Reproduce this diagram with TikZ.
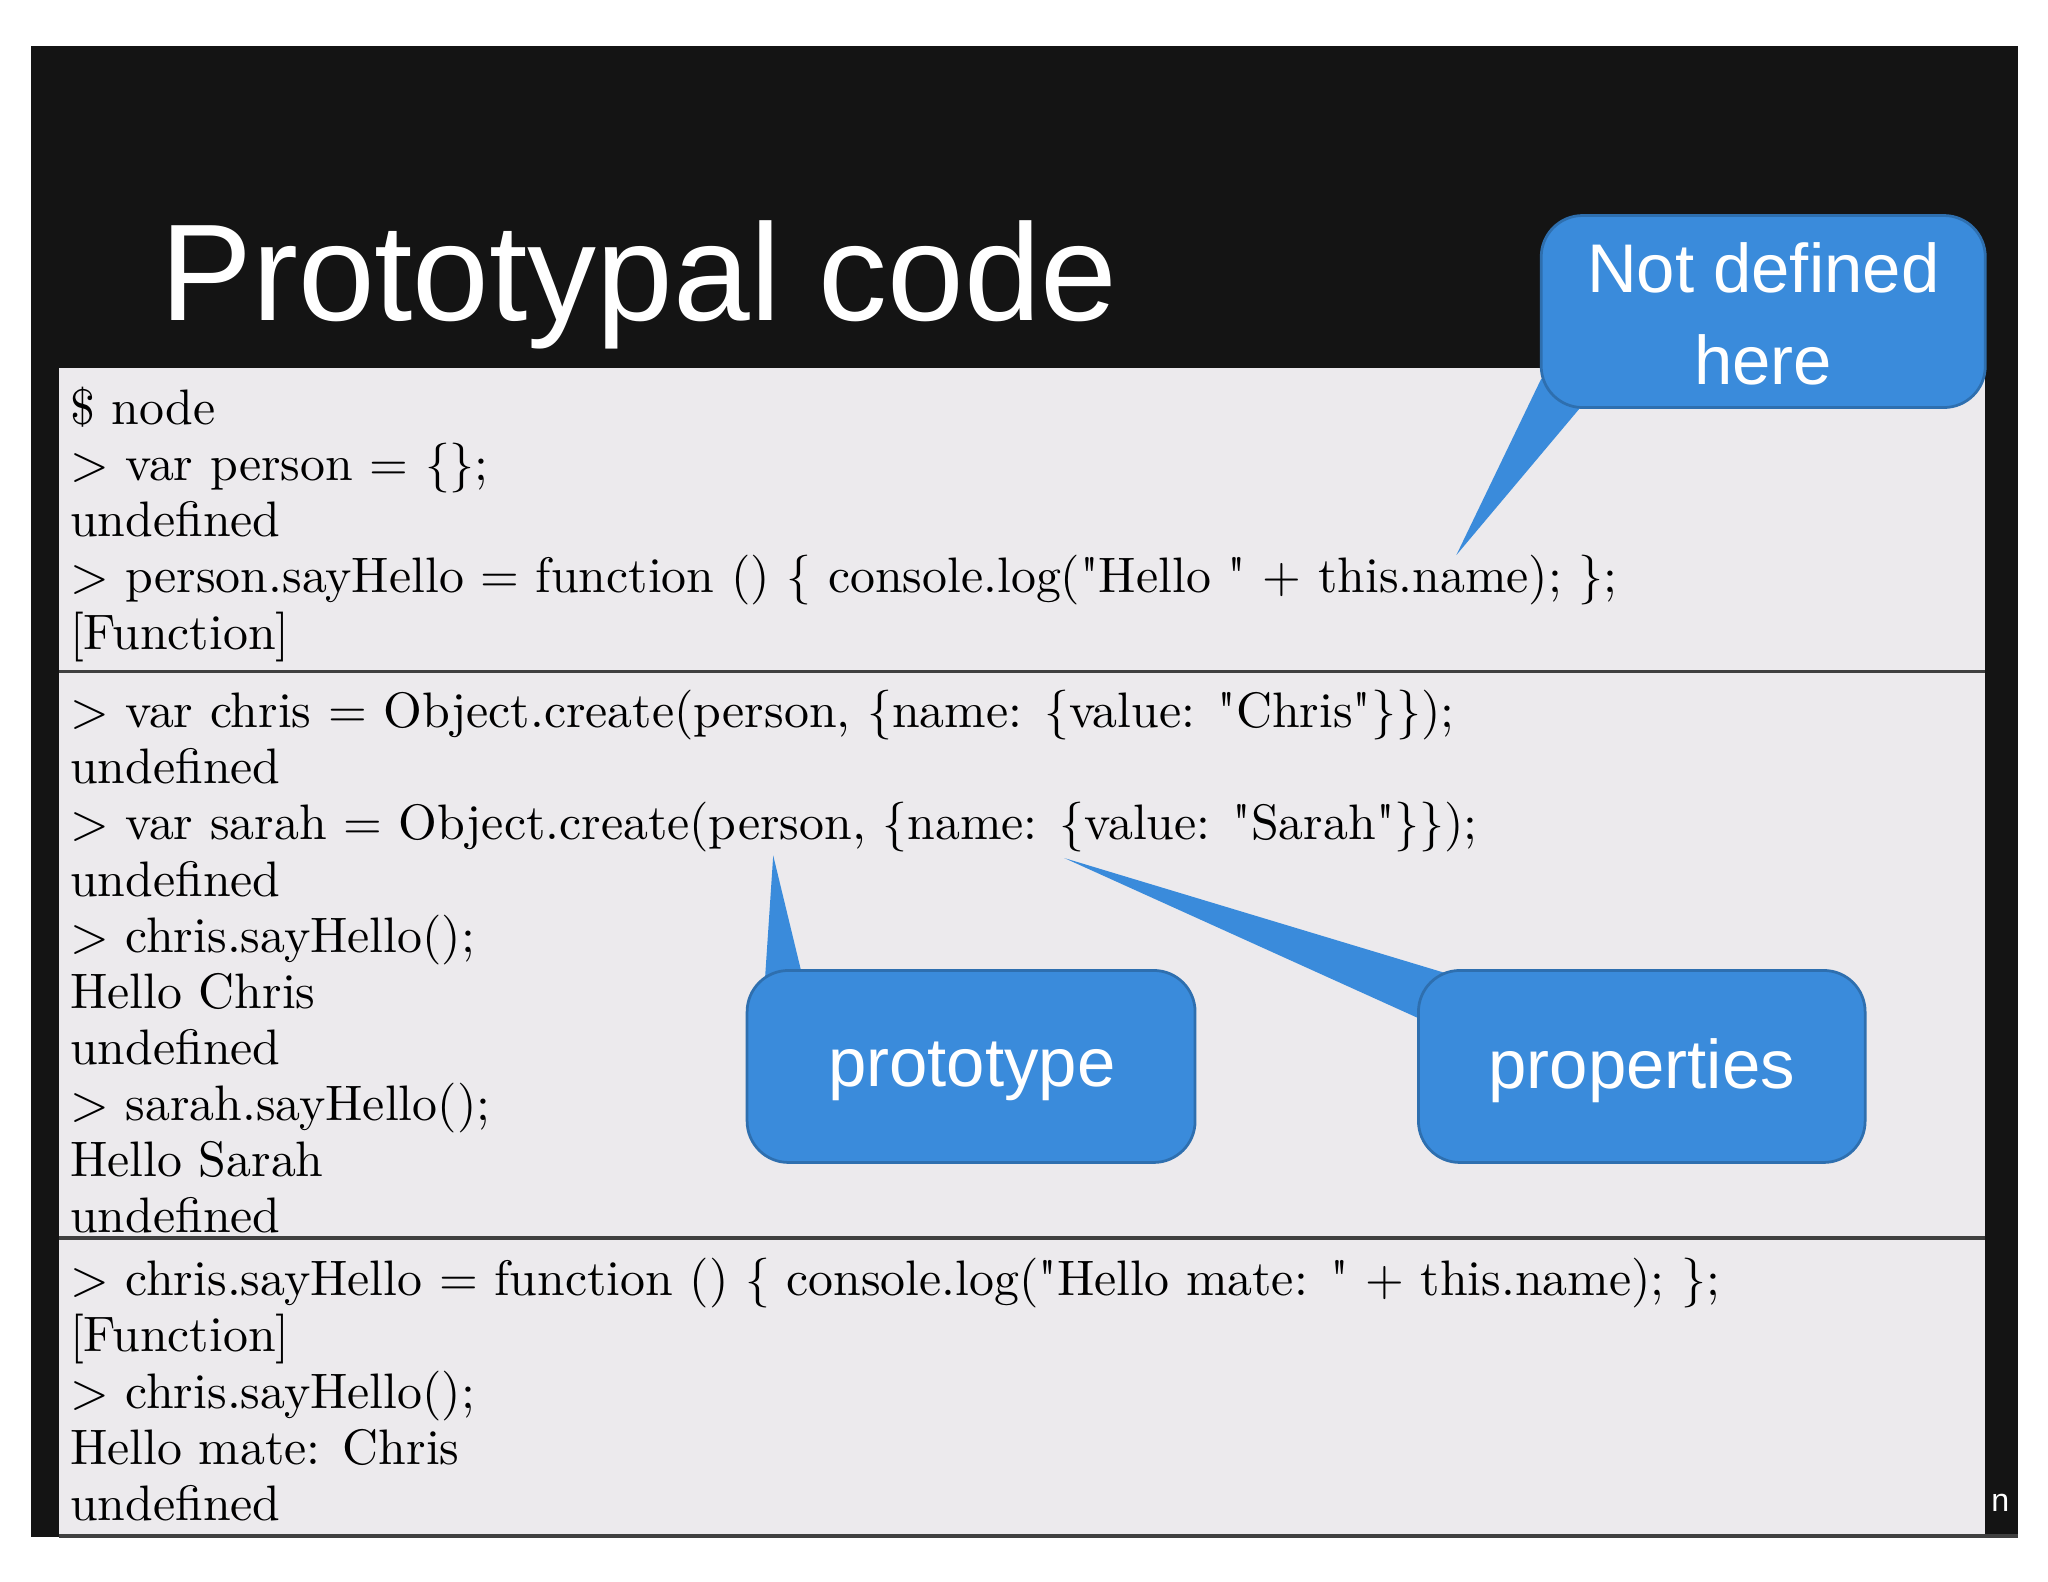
\documentclass[tikz,border=0pt]{standalone}
\usepackage{fontspec}
\newfontfamily\titlefont{Liberation Sans}
\newfontfamily\codefont{Latin Modern Roman}[Ligatures=TeXOff]
\newcommand{\dq}{"}
\tikzset{
  callout/.style={fill=calloutblue, draw=calloutblue!80!black, line width=0.6pt, rounded corners=9pt},
  tip/.style={fill=calloutblue},
  ctext/.style={text=white, font=\titlefont\fontsize{15}{20}\selectfont, align=center},
  codeline/.style={anchor=base west, inner sep=0pt, font=\codefont\fontsize{10.85}{12}\selectfont},
  sep/.style={draw=black!75, line width=0.8pt}
}
\definecolor{calloutblue}{HTML}{3A8BDB}
\definecolor{panelgray}{HTML}{ECEAED}
\begin{document}
\begin{tikzpicture}[x=0.01cm,y=-0.01cm]
\useasboundingbox (0,0) rectangle (1568,1211);
\fill[white] (0,0) rectangle (1568,1211);
\fill[black!92] (24,35) rectangle (1545,1177);
\node[anchor=base west, inner sep=0pt, text=white, font=\titlefont\fontsize{30}{34}\selectfont] (title) at (122,245) {Prototypal code};
\fill[panelgray] (45,282) rectangle (1520,1175);
\draw[sep] (45,514) -- (1520,514);
\draw[sep] (45,948) -- (1520,948);
\draw[black!75, line width=0.8pt] (45,1176) -- (1545,1176);
\node[anchor=base west, inner sep=0pt, text=white, font=\titlefont\fontsize{7}{8}\selectfont] (nn) at (1524,1157) {n};
% section 1
\node[codeline] (l1) at (53,325) {\$ node};
\node[codeline] (l2) at (53,368) {> var person = \{\};};
\node[codeline] (l3) at (53,411) {undefined};
\node[codeline] (l4) at (53,454) {> person.sayHello = function () \{ console.log(\dq Hello \dq\ + this.name); \};};
\node[codeline] (l5) at (53,497) {[Function]};
% section 2
\node[codeline] (m1) at (53,557) {> var chris = Object.create(person, \{name: \{value: \dq Chris\dq\}\});};
\node[codeline] (m2) at (53,600) {undefined};
\node[codeline] (m3) at (53,643) {> var sarah = Object.create(person, \{name: \{value: \dq Sarah\dq\}\});};
\node[codeline] (m4) at (53,686) {undefined};
\node[codeline] (m5) at (53,729) {> chris.sayHello();};
\node[codeline] (m6) at (53,772) {Hello Chris};
\node[codeline] (m7) at (53,815) {undefined};
\node[codeline] (m8) at (53,858) {> sarah.sayHello();};
\node[codeline] (m9) at (53,901) {Hello Sarah};
\node[codeline] (m10) at (53,944) {undefined};
% section 3
\node[codeline] (n1) at (53,992) {> chris.sayHello = function () \{ console.log(\dq Hello mate: \dq\ + this.name); \};};
\node[codeline] (n2) at (53,1035) {[Function]};
\node[codeline] (n3) at (53,1078) {> chris.sayHello();};
\node[codeline] (n4) at (53,1121) {Hello mate: Chris};
\node[codeline] (n5) at (53,1164) {undefined};
% callouts
\coordinate (p1) at (1115,425);
\coordinate (p2) at (592,655);
\coordinate (p3) at (815,657);
\fill[tip] (1180,290) -- (p1) -- (1210,312) -- cycle;
\fill[callout] (1180,165) rectangle (1520,312);
\node[ctext] (nd) at (1350,240) {Not defined\\here};
\fill[tip] (585,760) -- (p2) -- (614,746) -- cycle;
\fill[callout] (572,743) rectangle (915,890);
\node[ctext] (pt) at (744,820) {prototype};
\fill[tip] (1087,780) -- (p3) -- (1110,746) -- cycle;
\fill[callout] (1086,743) rectangle (1428,890);
\node[ctext] (pr) at (1257,820) {properties};
\end{tikzpicture}
\end{document}
